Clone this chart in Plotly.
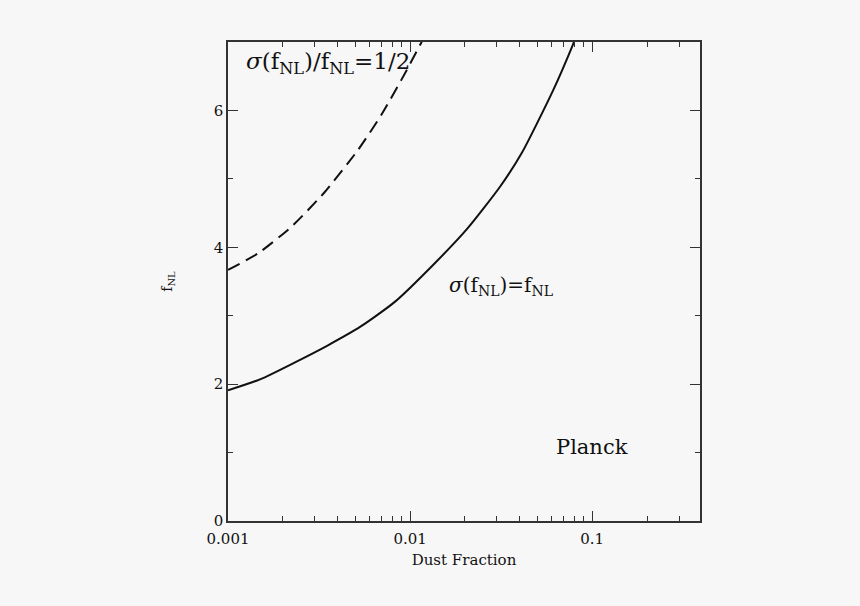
import math
import plotly.graph_objects as go

# Solid curve: sigma(fNL) = fNL
solid_x = [0.001, 0.00151, 0.00232, 0.00352, 0.00536, 0.00824, 0.01333, 0.0205, 0.0311, 0.0411, 0.0609, 0.0784, 0.081]
solid_y = [1.91, 2.073, 2.315, 2.564, 2.843, 3.202, 3.738, 4.265, 4.881, 5.380, 6.289, 6.963, 7.06]

# Dashed curve: sigma(fNL)/fNL = 1/2
dash_x = [0.001, 0.00146, 0.00223, 0.0034, 0.00518, 0.00696, 0.00897, 0.01156, 0.0119]
dash_y = [3.67, 3.91, 4.30, 4.808, 5.424, 5.937, 6.45, 7.0, 7.08]

x_tickvals = [0.001, 0.01, 0.1]
x_ticktext = ["0.001", "0.01", "0.1"]
y_tickvals = [0, 2, 4, 6]

BG = "#f7f7f7"
INK = "#111111"
AX = "#333333"

fig = go.Figure()
fig.add_trace(go.Scatter(x=solid_x, y=solid_y, mode="lines",
                         line=dict(color=INK, width=2, shape="spline", smoothing=0.6),
                         showlegend=False))
fig.add_trace(go.Scatter(x=dash_x, y=dash_y, mode="lines",
                         line=dict(color=INK, width=2, dash="13px,7px", shape="spline", smoothing=0.6),
                         showlegend=False))

serif = "DejaVu Serif"

fig.add_annotation(x=0.0, y=6.7, xref="x domain", yref="y", xanchor="left",
                   text="<i>σ</i>(f<sub>NL</sub>)/f<sub>NL</sub>=1/2", showarrow=False,
                   xshift=16, font=dict(family=serif, size=23, color=INK))
fig.add_annotation(x=math.log10(0.0159), y=3.44, xref="x", yref="y", xanchor="left",
                   text="<i>σ</i>(f<sub>NL</sub>)=f<sub>NL</sub>", showarrow=False,
                   font=dict(family=serif, size=20, color=INK))
fig.add_annotation(x=math.log10(0.1), y=1.08, xref="x", yref="y", xanchor="center",
                   text="Planck", showarrow=False,
                   font=dict(family=serif, size=21, color=INK))

fig.update_xaxes(type="log", range=[-3, -0.408],
                 tickvals=x_tickvals, ticktext=x_ticktext,
                 ticks="inside", ticklen=10, tickwidth=1.3, tickcolor=AX,
                 minor=dict(ticks="inside", ticklen=5, tickwidth=1.3, tickcolor=AX, dtick="D1", showgrid=False),
                 showline=True, linecolor=AX, linewidth=1.5, mirror="ticks",
                 showgrid=False, zeroline=False, ticklabelstandoff=3,
                 tickfont=dict(family=serif, size=15, color=INK),
                 title=dict(text="Dust Fraction", font=dict(family=serif, size=15, color=INK), standoff=8))
fig.update_yaxes(range=[0, 7], tickvals=y_tickvals,
                 ticks="inside", ticklen=10, tickwidth=1.3, tickcolor=AX,
                 minor=dict(ticks="inside", ticklen=5, tickwidth=1.3, tickcolor=AX, dtick=1, showgrid=False),
                 showline=True, linecolor=AX, linewidth=1.5, mirror="ticks",
                 showgrid=False, zeroline=False,
                 tickfont=dict(family=serif, size=15, color=INK),
                 title=dict(text="f<sub>NL</sub>", font=dict(family=serif, size=14, color=INK), standoff=38))

fig.update_layout(width=860, height=606,
                  margin=dict(l=228, r=160, t=42, b=85),
                  paper_bgcolor=BG, plot_bgcolor=BG)

fig.write_html("out.html", config={"displayModeBar": False},
               post_script="document.body.style.margin='0';document.body.style.background='%s';" % BG)
